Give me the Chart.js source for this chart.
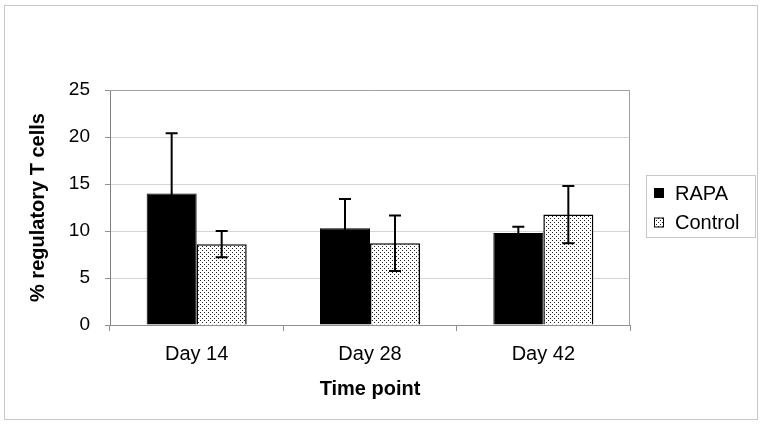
<!DOCTYPE html>
<html>
<head>
<meta charset="utf-8">
<script src="https://cdn.jsdelivr.net/npm/chart.js@4.4.1/dist/chart.umd.min.js"></script>
<style>
  html, body { margin: 0; padding: 0; background: #fff; }
  #wrap { width: 764px; height: 426px; position: relative; }
</style>
</head>
<body>
<div id="wrap"><canvas id="chart"></canvas></div>
<script>
const categories = ["Day 14", "Day 28", "Day 42"];
const rapaValues = [14.0, 10.3, 9.8];
const rapaErrors = [6.4, 3.1, 0.65];
const controlValues = [8.6, 8.7, 11.75];
const controlErrors = [1.4, 2.95, 3.05];
const yTicks = [0, 5, 10, 15, 20, 25];
const errors = [rapaErrors, controlErrors];

Chart.defaults.font.family = "'Liberation Sans', Arial, sans-serif";
Chart.defaults.color = "#000";

const canvas = document.getElementById("chart");
const ctx = canvas.getContext("2d");

// little dotted fill like the excel pattern
function dotPattern() {
  const c = document.createElement("canvas");
  c.width = 4;
  c.height = 4;
  const g = c.getContext("2d");
  g.fillStyle = "#fff";
  g.fillRect(0, 0, 4, 4);
  g.fillStyle = "#222";
  g.fillRect(0, 0, 1, 1);
  g.fillRect(2, 2, 1, 1);
  return ctx.createPattern(c, "repeat");
}
const dots = dotPattern();

const frame = {
  id: "frame",
  beforeDraw(chart) {
    const c = chart.ctx;
    c.save();
    c.fillStyle = "#fff";
    c.fillRect(0, 0, chart.width, chart.height);
    c.strokeStyle = "#c8c8c8";
    c.lineWidth = 1;
    c.strokeRect(4.5, 5.5, 753, 414);
    c.restore();
  },
  afterDraw(chart) {
    const a = chart.chartArea;
    const c = chart.ctx;
    c.save();
    c.strokeStyle = "#a0a0a0";
    c.lineWidth = 1;
    c.beginPath();
    c.moveTo(a.left, a.top + 0.5);
    c.lineTo(a.right - 0.5, a.top + 0.5);
    c.lineTo(a.right - 0.5, a.bottom);
    c.stroke();
    c.restore();
  }
};

const errorBars = {
  id: "errorBars",
  afterDatasetsDraw(chart) {
    const c = chart.ctx;
    const y = chart.scales.y;
    c.save();
    c.strokeStyle = "#000";
    c.lineWidth = 2;
    chart.data.datasets.forEach((ds, i) => {
      chart.getDatasetMeta(i).data.forEach((bar, j) => {
        const v = ds.data[j];
        const e = errors[i][j];
        const top = y.getPixelForValue(v + e);
        const bot = y.getPixelForValue(v - e);
        c.beginPath();
        c.moveTo(bar.x, top);
        c.lineTo(bar.x, bot);
        c.moveTo(bar.x - 6, top);
        c.lineTo(bar.x + 6, top);
        c.moveTo(bar.x - 6, bot);
        c.lineTo(bar.x + 6, bot);
        c.stroke();
      });
    });
    c.restore();
  }
};

const boxLegend = {
  id: "boxLegend",
  afterDraw(chart) {
    const c = chart.ctx;
    c.save();
    c.strokeStyle = "#c8c8c8";
    c.lineWidth = 1;
    c.strokeRect(646.5, 175.5, 109, 62);
    c.font = "20px 'Liberation Sans', Arial, sans-serif";
    c.textBaseline = "middle";
    const rows = [193, 222.5];
    chart.data.datasets.forEach((ds, i) => {
      c.fillStyle = ds.backgroundColor;
      c.fillRect(654, rows[i] - 5, 10, 10);
      c.strokeStyle = "#000";
      c.strokeRect(654.5, rows[i] - 4.5, 9, 9);
      c.fillStyle = "#000";
      c.fillText(ds.label, 675, rows[i] + 1);
    });
    c.restore();
  }
};

new Chart(canvas, {
  type: "bar",
  data: {
    labels: categories,
    datasets: [
      {
        label: "RAPA",
        data: rapaValues,
        backgroundColor: "#000",
        borderColor: "#000",
        borderWidth: 1
      },
      {
        label: "Control",
        data: controlValues,
        backgroundColor: dots,
        borderColor: "#000",
        borderWidth: 1.5
      }
    ]
  },
  options: {
    responsive: true,
    maintainAspectRatio: false,
    animation: false,
    layout: { padding: { top: 90, right: 134, bottom: 0, left: 0 } },
    datasets: {
      bar: { categoryPercentage: 0.577, barPercentage: 1.0 }
    },
    plugins: {
      legend: { display: false },
      tooltip: { enabled: false }
    },
    scales: {
      x: {
        afterFit: (s) => { s.height = 101; },
        grid: {
          offset: true,
          drawOnChartArea: false,
          drawTicks: true,
          tickLength: 6,
          color: "#909090"
        },
        border: { color: "#909090" },
        ticks: {
          font: { size: 20 },
          padding: 11,
          maxRotation: 0,
          autoSkip: false
        },
        title: {
          display: true,
          text: "Time point",
          font: { size: 20, weight: "bold" },
          padding: { bottom: 25 }
        }
      },
      y: {
        min: 0,
        max: 25,
        afterFit: (s) => { s.width = 110; },
        afterBuildTicks: (s) => { s.ticks = yTicks.map((v) => ({ value: v })); },
        grid: {
          color: "#d4d4d4",
          tickColor: "#909090",
          tickLength: 5
        },
        border: { color: "#808080" },
        ticks: {
          font: { size: 19 },
          padding: 15
        },
        title: {
          display: true,
          text: "% regulatory T cells",
          font: { size: 20, weight: "bold" },
          padding: { top: 26 }
        }
      }
    }
  },
  plugins: [frame, errorBars, boxLegend]
});
</script>
</body>
</html>
